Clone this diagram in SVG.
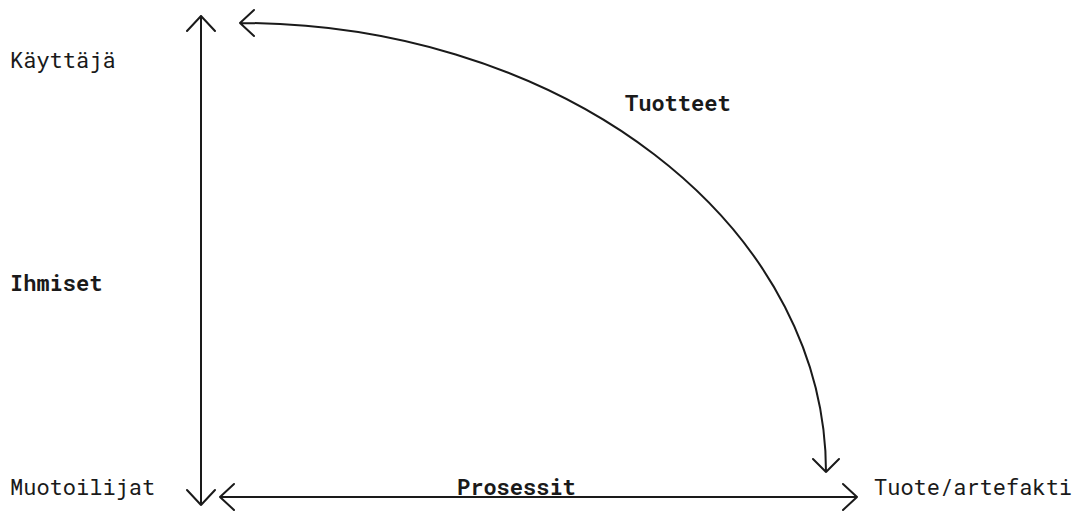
<svg xmlns="http://www.w3.org/2000/svg" width="1075" height="511" viewBox="0 0 1075 511">
<style>
.ln{fill:none;stroke:#1a1a1a;stroke-width:2;stroke-linecap:round;stroke-linejoin:round}
.t{font-family:"Roboto Mono","Liberation Mono","DejaVu Sans Mono",monospace;font-size:22px;fill:#1a1a1a}
.b{font-weight:bold}
</style>
<rect width="1075" height="511" fill="#fff"/>
<g id="connectors">
<path class="ln" d="M201,16 V505 M187,31 L201,16 L215,31 M187,490 L201,505 L215,490"/>
<path class="ln" d="M220,497 H857 M234,484 L220,497 L234,510 M843,484 L857,497 L843,510"/>
<path class="ln" d="M240,23 A586,449 0 0 1 826,472 M254,10 L240,23 L254,36 M813,459 L826,472 L839,459"/>
</g>
<g id="kayttaja"><text class="t" x="10" y="68">Käyttäjä</text></g>
<g id="ihmiset"><text class="t b" x="10" y="291">Ihmiset</text></g>
<g id="muotoilijat"><text class="t" x="10" y="495">Muotoilijat</text></g>
<g id="prosessit"><text class="t b" x="457" y="495">Prosessit</text></g>
<g id="tuote"><text class="t" x="874" y="495">Tuote/artefakti</text></g>
<g id="tuotteet"><text class="t b" x="625" y="111">Tuotteet</text></g>
</svg>
